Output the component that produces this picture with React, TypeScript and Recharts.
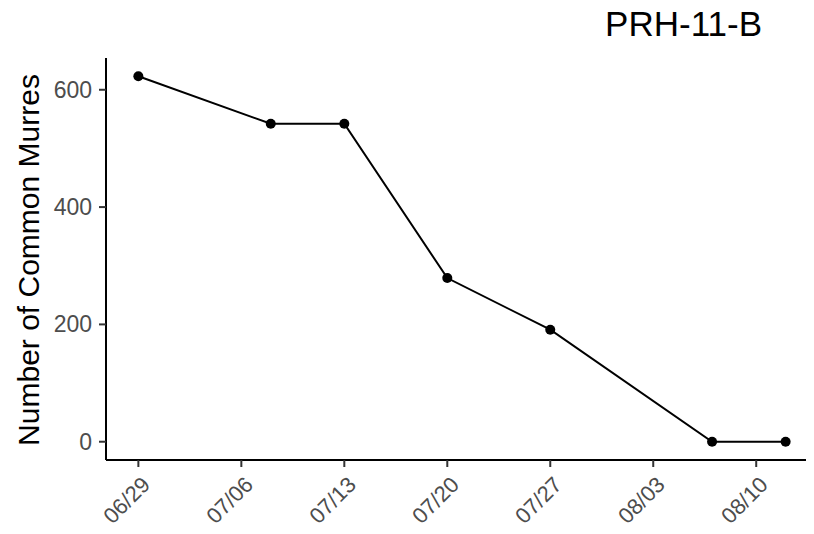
import { LineChart, Line, XAxis, YAxis } from 'recharts'

// survey dates (mm/dd) and counts
const surveyDates = ['06/29', '07/08', '07/13', '07/20', '07/27', '08/07', '08/12']
const murreCounts = [623, 542, 542, 279, 191, 0, 0]
const xTickLabels = ['06/29', '07/06', '07/13', '07/20', '07/27', '08/03', '08/10']
const yTicks = [0, 200, 400, 600]

const FONT = '"Liberation Sans", Arial, Helvetica, sans-serif'

const dayNum = (s: string) => {
    const [m, d] = s.split('/').map(Number)
    return Math.round((Date.UTC(2021, m - 1, d) - Date.UTC(2021, 5, 29)) / 86400000)
}

const data = surveyDates.map((d, i) => ({ day: dayNum(d), count: murreCounts[i] }))
const xTicks = xTickLabels.map(dayNum)

// ggplot style 5% expansion
const xMin = Math.min(...data.map(d => d.day))
const xMax = Math.max(...data.map(d => d.day))
const yMax = Math.max(...murreCounts)
const xPad = (xMax - xMin) * 0.05
const yPad = yMax * 0.05

const labelFor = (v: number) => xTickLabels[xTicks.indexOf(v)] ?? ''

const XTick = (props: any) => {
    const { x, y, payload } = props
    const tx = x + 13
    const ty = y + 17
    return (
        <text
            x={tx}
            y={ty}
            transform={`rotate(-45, ${tx}, ${ty})`}
            textAnchor="end"
            fontSize={22}
            fontFamily={FONT}
            fill="#4d4d4d"
        >
            {labelFor(payload.value)}
        </text>
    )
}

const YTick = (props: any) => {
    const { x, y, payload } = props
    return (
        <text x={x - 5} y={y + 8} textAnchor="end" fontSize={23} fontFamily={FONT} fill="#4d4d4d">
            {payload.value}
        </text>
    )
}

const App = () => {
    return (
        <div style={{ margin: -8, width: 814, height: 534, overflow: 'hidden', position: 'relative', background: '#fff' }}>
            <svg width={814} height={534} style={{ position: 'absolute', left: 0, top: 0 }}>
                <text x={762} y={36} textAnchor="end" fontSize={35} fontFamily={FONT} fill="#000">
                    PRH-11-B
                </text>
                <text
                    x={39}
                    y={260}
                    transform="rotate(-90, 39, 260)"
                    textAnchor="middle"
                    fontSize={30}
                    fontFamily={FONT}
                    fill="#000"
                >
                    Number of Common Murres
                </text>
            </svg>
            <div style={{ position: 'absolute', left: 0, top: 0 }}>
                <LineChart width={818} height={534} data={data} margin={{ top: 58, right: 0, left: 0, bottom: 0 }}>
                    <XAxis
                        dataKey="day"
                        type="number"
                        domain={[xMin - xPad, xMax + xPad]}
                        ticks={xTicks}
                        allowDataOverflow
                        height={74}
                        tickSize={7}
                        axisLine={{ stroke: '#000', strokeWidth: 2 }}
                        tickLine={{ stroke: '#333', strokeWidth: 2 }}
                        tick={<XTick />}
                        interval={0}
                    />
                    <YAxis
                        type="number"
                        domain={[-yPad, yMax + yPad]}
                        ticks={yTicks}
                        allowDataOverflow
                        width={106}
                        tickSize={7}
                        axisLine={{ stroke: '#000', strokeWidth: 2 }}
                        tickLine={{ stroke: '#333', strokeWidth: 2 }}
                        tick={<YTick />}
                        interval={0}
                    />
                    <Line
                        type="linear"
                        dataKey="count"
                        stroke="#000"
                        strokeWidth={2}
                        dot={{ r: 5, fill: '#000', stroke: '#000', strokeWidth: 0 }}
                        activeDot={false}
                        isAnimationActive={false}
                    />
                </LineChart>
            </div>
        </div>
    )
}

export default App
